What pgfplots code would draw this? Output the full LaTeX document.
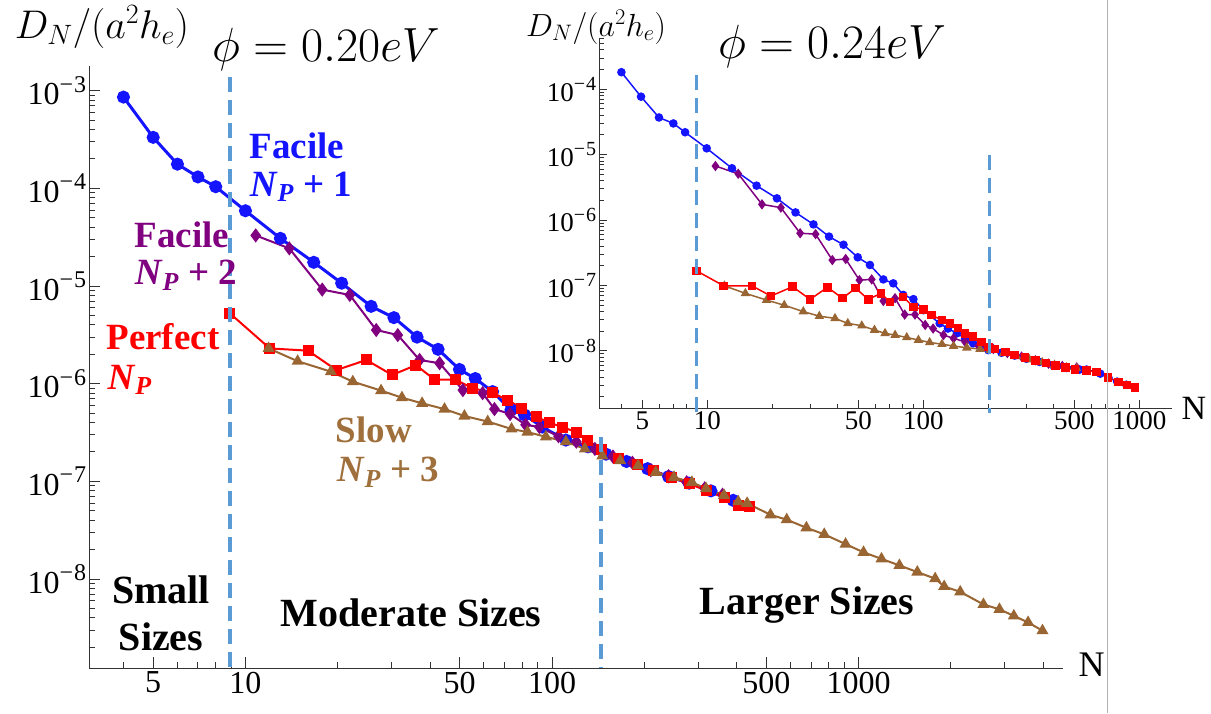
\documentclass[border=0pt]{standalone}
\usepackage{fix-cm}
\usepackage{fontspec}
\setmainfont{Liberation Serif}
\usepackage{pgfplots}
\pgfplotsset{compat=1.18}

\definecolor{mblue}{RGB}{20,20,255}
\definecolor{mpurple}{RGB}{128,0,128}
\definecolor{mred}{RGB}{255,0,0}
\definecolor{mbrown}{RGB}{153,102,51}
\definecolor{slowtxt}{RGB}{160,112,60}
\definecolor{dashblue}{RGB}{91,155,213}

% Mathematica-like power-of-ten labels
\newcommand{\pw}[1]{10\raisebox{0.4em}{\fontsize{24}{24}\selectfont −\kern1pt#1}}
\newcommand{\pws}[1]{10\raisebox{0.4em}{\fontsize{20}{20}\selectfont −\kern1pt#1}}

\pgfplotsset{
  mma/.style={
    scale only axis, anchor=south west,
    axis x line=bottom, axis y line=left,
    axis line style={-, line width=1.2pt, black!80},
    tick align=inside,
    tick style={black!80, line width=1pt},
    xtick={5,10,50,100,500,1000},
    xticklabels={5,10,50,100,500,1000},
    minor xtick={4,6,7,8,9,20,30,40,60,70,80,90,200,300,400,600,700,800,900,2000,3000,4000},
    minor ytick={2e-9,3e-9,4e-9,5e-9,6e-9,7e-9,8e-9,9e-9,
      2e-8,3e-8,4e-8,5e-8,6e-8,7e-8,8e-8,9e-8,
      2e-7,3e-7,4e-7,5e-7,6e-7,7e-7,8e-7,9e-7,
      2e-6,3e-6,4e-6,5e-6,6e-6,7e-6,8e-6,9e-6,
      2e-5,3e-5,4e-5,5e-5,6e-5,7e-5,8e-5,9e-5,
      2e-4,3e-4,4e-4,5e-4,6e-4,7e-4,8e-4,9e-4},
  },
}

\begin{document}
\begin{tikzpicture}[x=1pt,y=1pt]
\useasboundingbox (0,0) rectangle (1211,713);

% main panel, phi = 0.20 eV
\begin{axis}[xmode=log, ymode=log, mma,
  at={(89.3pt,44.7pt)}, width=973.4pt, height=602.3pt,
  xmin=3.095, xmax=4634, ymin=1.22e-9, ymax=1.79e-3,
  major tick length=11pt, minor tick length=6pt,
  ytick={1e-8,1e-7,1e-6,1e-5,1e-4,1e-3},
  yticklabels={\pw{8},\pw{7},\pw{6},\pw{5},\pw{4},\pw{3}},
  ticklabel style={font=\fontsize{32}{32}\selectfont},
  yticklabel style={inner sep=3pt},
]
\addplot[mblue, line width=3pt, mark=*, mark size=5pt] coordinates {
 (4,8.6e-4) (5,3.33e-4) (6,1.77e-4) (7,1.31e-4) (8,1.04e-4) (10,5.9e-5)
 (13,3.08e-5) (16.7,1.75e-5) (20.6,1.07e-5) (25.7,6.2e-6) (30.5,4.75e-6)
 (36.3,3.0e-6) (42.5,2.25e-6) (49.9,1.4e-6) (56.2,1.13e-6) (64,8.3e-7)
 (73.5,5.4e-7) (81.3,4.8e-7) (93,3.6e-7) (111,2.65e-7) (131,2.26e-7)
 (150,1.9e-7) (175,1.6e-7) (205,1.35e-7) (240,1.12e-7) (280,9.6e-8)
 (330,8.0e-8) (390,6.4e-8)
};
\addplot[mpurple, line width=2pt, mark=diamond*, mark size=5.5pt] coordinates {
 (10.8,3.3e-5) (13.9,2.43e-5) (17.8,9.2e-6) (21.9,8.1e-6) (26.7,3.55e-6)
 (31.4,3.15e-6) (37,1.75e-6) (43,1.62e-6) (51.2,8.6e-7) (59.4,8.0e-7)
 (64.9,5.5e-7) (73,4.9e-7) (82,3.8e-7) (91,3.6e-7) (105,2.9e-7) (120,2.55e-7)
 (138,2.15e-7) (158,1.8e-7) (183,1.55e-7) (210,1.3e-7) (240,1.13e-7)
 (275,9.8e-8) (315,8.5e-8) (360,7.3e-8)
};
\addplot[mred, line width=2pt, mark=square*, mark size=4.5pt] coordinates {
 (8.9,5.25e-6) (12,2.3e-6) (16,2.18e-6) (19.8,1.38e-6) (24.8,1.75e-6)
 (30.1,1.23e-6) (36,1.55e-6) (41.4,1.1e-6) (48.4,1.1e-6) (55,9e-7)
 (63.8,8.1e-7) (71.7,6.8e-7) (79.8,5.6e-7) (88.7,4.6e-7) (98,4.0e-7)
 (108,3.6e-7) (120,3.2e-7) (131,2.65e-7) (145,2.1e-7) (165,1.72e-7)
 (190,1.48e-7) (215,1.28e-7) (245,1.1e-7) (280,9.5e-8) (320,8.0e-8)
 (365,6.8e-8) (405,5.6e-8) (440,5.5e-8)
};
\addplot[mbrown, line width=2pt, mark=triangle*, mark size=5pt] coordinates {
 (11.9,2.3e-6) (14.8,1.7e-6) (19,1.33e-6) (22.4,1.05e-6) (27.7,8.5e-7)
 (32.4,7.2e-7) (37.7,6.3e-7) (44.6,5.5e-7) (51.8,4.67e-7) (61.7,4.1e-7)
 (73.8,3.44e-7) (83.2,3.2e-7) (95.5,2.86e-7) (111,2.55e-7) (128,2.15e-7)
 (146,1.83e-7) (167,1.63e-7) (191,1.45e-7) (218,1.24e-7) (250,1.10e-7)
 (286,9.8e-8) (318,8.45e-8) (364,7.2e-8) (405,6.2e-8) (433,5.97e-8)
 (516,4.55e-8) (583,4.06e-8) (676,3.35e-8) (773,2.87e-8) (907,2.28e-8)
 (1038,1.88e-8) (1188,1.61e-8) (1359,1.38e-8) (1555,1.18e-8) (1778,1.01e-8)
 (1902,8.4e-9) (2146,7.4e-9) (2555,5.5e-9) (2882,4.9e-9) (3210,4.2e-9)
 (3573,3.6e-9) (3981,2.96e-9)
};
\end{axis}

% inset panel, phi = 0.24 eV
\begin{axis}[xmode=log, ymode=log, mma,
  at={(599.3pt,304.7pt)}, width=572.4pt, height=370pt,
  xmin=3.16, xmax=1413, ymin=1.33e-9, ymax=6.0e-4,
  major tick length=8pt, minor tick length=4.5pt,
  ytick={1e-8,1e-7,1e-6,1e-5,1e-4},
  yticklabels={\pws{8},\pws{7},\pws{6},\pws{5},\pws{4}},
  ticklabel style={font=\fontsize{27}{27}\selectfont},
  yticklabel style={inner sep=3pt},
]
\addplot[mblue, line width=1.5pt, mark=*, mark size=3.5pt] coordinates {
 (4,1.82e-4) (4.93,7.7e-5) (5.97,3.7e-5) (6.96,3.0e-5) (7.89,2.2e-5)
 (9.93,1.25e-5) (13,6.2e-6) (16.9,3.36e-6) (21,2.15e-6) (25.6,1.31e-6)
 (31,8.6e-7) (36.6,5.6e-7) (42.7,4.2e-7) (49.7,2.7e-7) (56.6,2.06e-7)
 (65.3,1.24e-7) (72.6,1.08e-7) (80.7,7.2e-8) (90,6.2e-8) (100,4.2e-8)
 (119,2.64e-8) (130,2.2e-8) (143,1.86e-8) (156,1.56e-8) (170,1.31e-8)
 (200,1.03e-8) (230,9.4e-9) (265,8.5e-9) (300,7.6e-9) (345,6.8e-9)
 (400,6.0e-9) (460,5.5e-9) (530,5.2e-9) (570,5.2e-9) (660,4.5e-9)
 (720,3.9e-9) (790,3.4e-9) (870,3.05e-9) (950,2.75e-9)
};
\addplot[mpurple, line width=1.5pt, mark=diamond*, mark size=4pt] coordinates {
 (10.9,6.7e-6) (13.9,5.1e-6) (17.9,1.74e-6) (21.9,1.55e-6) (26.9,6.3e-7)
 (31.7,6.1e-7) (37.9,2.45e-7) (43.7,2.54e-7) (50.6,1.21e-7) (57.7,1.24e-7)
 (65.3,5.8e-8) (74,6.4e-8) (82,3.6e-8) (91.5,3.6e-8) (102,2.5e-8)
 (111,2.2e-8) (124,1.75e-8) (138,1.56e-8) (156,1.38e-8) (180,1.2e-8)
 (211,1.07e-8) (245,9.3e-9) (285,8.2e-9) (330,7.2e-9) (380,6.4e-9)
 (440,5.9e-9) (513,5.6e-9)
};
\addplot[mbrown, line width=1.5pt, mark=triangle*, mark size=4pt] coordinates {
 (12,9.9e-8) (15,7.6e-8) (18.8,6e-8) (22.7,5e-8) (27.8,4e-8) (33,3.4e-8)
 (39,3.15e-8) (44.7,2.64e-8) (51.9,2.43e-8) (59.4,2.09e-8) (66.5,1.86e-8)
 (74,1.75e-8) (83.8,1.61e-8) (94.9,1.47e-8) (107,1.35e-8) (122,1.27e-8)
 (138,1.19e-8) (159,1.12e-8) (183,1.07e-8) (204,1.03e-8) (235,9.2e-9)
 (270,8.3e-9) (310,7.4e-9) (355,6.7e-9) (405,6.1e-9) (460,5.6e-9) (513,5.4e-9)
};
\addplot[mred, line width=1.5pt, mark=square*, mark size=3.5pt] coordinates {
 (8.93,1.67e-7) (11.9,9.9e-8) (16.1,9.9e-8) (19.7,6.9e-8) (24.8,9.6e-8)
 (29.9,6.15e-8) (36,9.4e-8) (42.2,6.4e-8) (48.6,9.1e-8) (55.6,6.15e-8)
 (63.7,7.6e-8) (70,5.65e-8) (80.7,6.7e-8) (90,4.7e-8) (100,4.3e-8)
 (109,3.54e-8) (122,2.97e-8) (133,2.64e-8) (145,2.26e-8) (156,1.86e-8)
 (170,1.65e-8) (186,1.38e-8) (200,1.16e-8) (215,1.07e-8) (240,9.6e-9)
 (265,8.7e-9) (295,7.9e-9) (330,7.1e-9) (370,6.5e-9) (410,6.0e-9)
 (455,5.6e-9) (505,5.2e-9) (570,5.0e-9) (635,4.8e-9) (718,3.94e-9)
 (800,3.38e-9) (875,3.0e-9) (955,2.77e-9)
};
\end{axis}

% region boundaries
\draw[dashblue, line width=3.3pt, dash pattern=on 15pt off 8pt] (230,636) -- (230,45);
\draw[dashblue, line width=3.3pt, dash pattern=on 15pt off 8pt] (601,276) -- (601,45);
\draw[dashblue, line width=3.3pt, dash pattern=on 15pt off 8pt] (696.7,638) -- (696.7,300);
\draw[dashblue, line width=3.3pt, dash pattern=on 15pt off 8pt] (989.3,558) -- (989.3,300);
\draw[black!30, line width=1pt] (1107,0) -- (1107,713);

% axis labels and titles
\node[font=\fontsize{40}{40}\selectfont] at (102,686) {$D_N/(a^2h_e)$};
\node[font=\fontsize{32}{32}\selectfont] at (596,686) {$D_N/(a^2h_e)$};
\node[font=\fontsize{48}{48}\selectfont] at (326,663) {$\phi = 0.20eV$};
\node[font=\fontsize{48}{48}\selectfont] at (832,666) {$\phi = 0.24eV$};
\node[font=\fontsize{36}{36}\selectfont] at (1091.5,48.5) {N};
\node[font=\fontsize{34}{34}\selectfont] at (1194,305) {N};

% series annotations
\begin{scope}[every node/.style={font=\fontsize{37}{37}\selectfont\bfseries}]
\node[text=mblue] at (297,567) {Facile};
\node[text=mblue] at (301,526) {\textit{N}\textsubscript{\textit{P}} + 1};
\node[text=mpurple] at (182,478) {Facile};
\node[text=mpurple] at (186,438) {\textit{N}\textsubscript{\textit{P}} + 2};
\node[text=mred] at (163,376) {Perfect};
\node[text=mred, anchor=west] at (104,333) {\textit{N}\textsubscript{\textit{P}}};
\node[text=slowtxt] at (374,283) {Slow};
\node[text=slowtxt] at (388,241) {\textit{N}\textsubscript{\textit{P}} + 3};
\end{scope}
\begin{scope}[every node/.style={font=\fontsize{40}{40}\selectfont\bfseries}]
\node at (161,123) {Small};
\node at (161,76) {Sizes};
\node at (411,100) {Moderate Sizes};
\node at (807,108) {Larger Sizes};
\end{scope}
\end{tikzpicture}
\end{document}
